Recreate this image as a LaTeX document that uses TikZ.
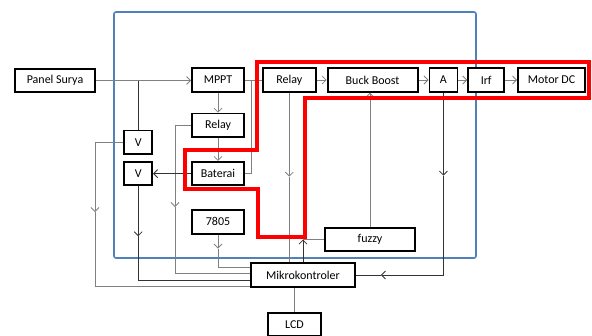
\documentclass[tikz,border=0pt]{standalone}
\usepackage{fontspec}
\setmainfont{Carlito}
\usetikzlibrary{arrows.meta,positioning,calc}
\definecolor{biru}{HTML}{4F81BD}

\begin{document}
\begin{tikzpicture}[
  x=1pt, y=-1pt,
  font=\fontsize{12}{14}\selectfont,
  >={Straight Barb[length=4pt,width=8pt]},
  blok/.style={draw, line width=1.8pt, fill=white, align=center, minimum height=23.5pt, inner sep=1pt},
  wire/.style={draw=black!50, line width=0.8pt},
  sig/.style={draw=black!80, line width=0.8pt},
  batas/.style={draw=biru, line width=1.6pt, rounded corners=2pt},
  jalur/.style={draw=red, line width=4pt, line join=miter}
]
\useasboundingbox (0,0) rectangle (592,335);

\draw[batas] (114,12) rectangle (476,258);

\node[blok, minimum width=80pt] (panel) at (55,80.5) {Panel Surya};
\node[blok, minimum width=52pt] (mppt) at (218,80) {MPPT};
\node[blok, minimum width=52pt, below=20pt of mppt] (relayb) {Relay};
\node[blok, minimum width=52pt, below=23pt of relayb] (baterai) {Baterai};
\node[blok, minimum width=52pt, below=23pt of baterai] (reg) {7805};
\node[blok, minimum width=28pt, left=38pt of baterai] (vbat) {V};
\node[blok, minimum width=28pt, above=6pt of vbat] (vpanel) {V};
\node[blok, minimum width=53pt, right=17pt of mppt] (relaya) {Relay};
\node[blok, minimum width=90pt, right=10pt of relaya] (buck) {Buck Boost};
\node[blok, minimum width=28pt, right=10pt of buck] (amp) {A};
\node[blok, minimum width=36pt, right=9pt of amp] (irf) {Irf};
\node[blok, minimum width=67pt, right=12pt of irf] (motor) {Motor DC};
\node[blok, minimum width=90pt] (fuzzy) at (370,239.5) {fuzzy};
\node[blok, minimum width=104pt] (mikro) at (303,275) {Mikrokontroler};
\node[blok, minimum width=53pt] (lcd) at (294.5,324.5) {LCD};

% titik belok
\coordinate (a1) at (95,212);
\coordinate (a2) at (175,207);
\coordinate (a3) at ($(vbat.south)+(0,50)$);
\coordinate (a4) at ($(reg.south)+(0,14)$);
\coordinate (a5) at ($(relaya.south)+(0,84)$);
\coordinate (a6) at ($(amp.south)+(0,83)$);
\coordinate (a7) at ($(mikro.east)+(25,0)$);
\coordinate (m1) at ($(mikro.west)+(0,-8)$);
\coordinate (m2) at ($(mikro.west)+(0,-2)$);
\coordinate (m3) at ($(mikro.west)+(0,5)$);
\coordinate (m4) at ($(mikro.west)+(0,11)$);
\coordinate (t1) at (251,80);

% panel dan sensor
\draw[wire,->] (panel.east) -- (panel.east -| mppt.west);
\draw[sig] (vpanel.north) -- (vpanel.north |- panel.east);
\draw[wire,->] (vpanel.west) -| (a1);
\draw[wire] (a1) |- (m4);
\draw[wire,->] (mppt) -- (relayb);
\draw[wire,->] (relayb) -- (baterai);
\draw[wire,->] (relayb.west) -| (a2);
\draw[wire] (a2) |- (m2);
\draw[sig,->] (baterai) -- (vbat);
\draw[sig,->] (vbat.south) -- (a3);
\draw[sig] (a3) |- (m3);
\draw[wire] (mppt.east) -- (relaya.west);
\draw[wire] (baterai.east) -| (t1);
\draw[wire,->] (reg.south) -- (a4);
\draw[wire] (a4) |- (m1);

% jalur motor
\foreach \a/\b in {relaya/buck, buck/amp, amp/irf, irf/motor}
  \draw[wire,->] (\a) -- (\b);
\draw[wire,->] (relaya.south) -- (a5);
\draw[wire] (a5) -- (a5 |- mikro.north);
\draw[wire,->] (fuzzy.north) -- (fuzzy.north |- buck.south);
\draw[sig,->] (amp.south) -- (a6);
\draw[sig,->] (a6) |- (a7);
\draw[sig] (a7) -- (mikro.east);
\draw[sig,->] (mikro.north) -- (mikro.north |- fuzzy.west);
\draw[wire] (fuzzy.west) -- (mikro.north |- fuzzy.west);
\draw[wire] (lcd.north) -- (lcd.north |- mikro.south);

\draw[jalur] (257,62) -- (589,62) -- (589,98) -- (305,98) -- (305,237) -- (258,237)
  -- (258,189) -- (185,189) -- (185,150) -- (257,150) -- cycle;
\end{tikzpicture}
\end{document}
